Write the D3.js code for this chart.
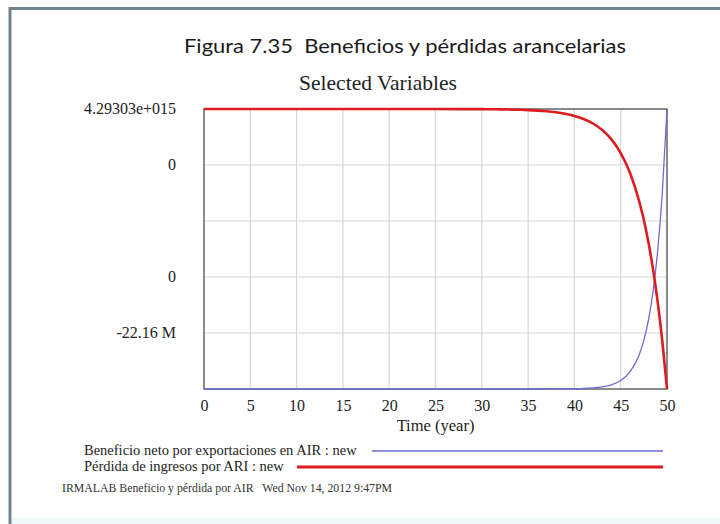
<!DOCTYPE html>
<html>
<head>
<meta charset="utf-8">
<script src="https://cdn.jsdelivr.net/npm/d3@7/dist/d3.min.js"></script>
<style>
  html, body { margin: 0; padding: 0; background: #ffffff; }
  svg { display: block; }
</style>
</head>
<body>
<svg id="chart" width="720" height="524"></svg>
<script>
// Simulation time (years)
const years = [0, 5, 10, 15, 20, 25, 30, 31, 32, 33, 34, 35, 36, 37, 38, 39, 40,
  41, 42, 43, 44, 45, 46, 47, 47.5, 48, 48.5, 49, 49.5, 50];

// Beneficio neto por exportaciones en AIR : new
const beneficioNeto = [0, 0, 0, 0, 0, 0, 3.6e9, 7.2e9, 1.45e10, 2.92e10, 5.87e10,
  1.18e11, 2.38e11, 4.79e11, 9.65e11, 1.944e12, 3.915e12, 7.883e12, 1.5875e13,
  3.197e13, 6.438e13, 1.2964e14, 2.611e14, 5.257e14, 7.46e14, 1.0587e15,
  1.5023e15, 2.1318e15, 3.0253e15, 4.29303e15];

// Pérdida de ingresos por ARI : new
const perdidaIngresos = [0, 0, 0, 0, -3.0e2, -2.1e3, -1.35e4, -1.96e4, -2.84e4,
  -4.11e4, -5.95e4, -8.6e4, -1.25e5, -1.81e5, -2.61e5, -3.78e5, -5.48e5, -7.93e5,
  -1.148e6, -1.662e6, -2.407e6, -3.484e6, -5.044e6, -7.304e6, -8.786e6,
  -1.0572e7, -1.2722e7, -1.5306e7, -1.8417e7, -2.216e7];

// Axis texts
const xTickValues = [0, 5, 10, 15, 20, 25, 30, 35, 40, 45, 50];
const yTickLabels = ["4.29303e+015", "0", "0", "-22.16 M"];
const yTickRows = [0, 1, 3, 4];

const seriesNames = ["Beneficio neto por exportaciones en AIR : new",
  "Pérdida de ingresos por ARI : new"];
const seriesColors = ["#6b6bd6", "#de1c1f"];

const svg = d3.select("#chart");
const W = 720, H = 524;
const plot = { left: 204, right: 667, top: 109, bottom: 389 };
const serif = "'Liberation Serif', 'Times New Roman', serif";

// Page frame
svg.append("rect").attr("x", 0).attr("y", 0).attr("width", W).attr("height", H)
  .attr("fill", "#ffffff");
svg.append("rect").attr("x", 10).attr("y", 518).attr("width", W).attr("height", 8)
  .attr("fill", "#eef8f8");
svg.append("rect").attr("x", 10).attr("y", 8.5).attr("width", W + 10).attr("height", H + 10)
  .attr("fill", "none").attr("stroke", "#72848f").attr("stroke-width", 3);

// Titles
svg.append("text").attr("x", 405).attr("y", 53)
  .attr("text-anchor", "middle")
  .attr("font-family", "Lato, 'Open Sans', sans-serif").attr("font-size", 20)
  .attr("fill", "#1a1a1a")
  .attr("textLength", 442).attr("lengthAdjust", "spacingAndGlyphs")
  .style("white-space", "pre")
  .text("Figura 7.35  Beneficios y pérdidas arancelarias");

svg.append("text").attr("x", 378).attr("y", 90)
  .attr("text-anchor", "middle")
  .attr("font-family", serif).attr("font-size", 21.5)
  .attr("fill", "#222")
  .text("Selected Variables");

// Scales
const x = d3.scaleLinear().domain([0, 50]).range([plot.left, plot.right]);
const yBlue = d3.scaleLinear().domain([0, d3.max(beneficioNeto)]).range([plot.bottom, plot.top]);
const yRed = d3.scaleLinear().domain([d3.min(perdidaIngresos), 0]).range([plot.bottom, plot.top]);
const yRow = d3.scaleLinear().domain([0, 5]).range([plot.top, plot.bottom]);

// Grid
const grid = svg.append("g").attr("stroke", "#d6d6d6").attr("stroke-width", 1.2);
grid.selectAll("line.v").data(xTickValues.slice(1, -1)).join("line")
  .attr("x1", d => x(d)).attr("x2", d => x(d))
  .attr("y1", plot.top).attr("y2", plot.bottom);
grid.selectAll("line.h").data(d3.range(1, 5)).join("line")
  .attr("x1", plot.left).attr("x2", plot.right)
  .attr("y1", d => yRow(d)).attr("y2", d => yRow(d));

// Plot frame
svg.append("rect").attr("x", plot.left).attr("y", plot.top)
  .attr("width", plot.right - plot.left).attr("height", plot.bottom - plot.top)
  .attr("fill", "none").attr("stroke", "#6f6f6f").attr("stroke-width", 1.6);

// X axis labels
const xAxis = d3.axisBottom(x).tickValues(xTickValues).tickSize(0).tickPadding(11)
  .tickFormat(d3.format("d"));
const gx = svg.append("g").attr("transform", `translate(0,${plot.bottom})`).call(xAxis);
gx.select(".domain").remove();
gx.selectAll("text").attr("font-family", serif)
  .attr("font-size", 16).attr("fill", "#222");

svg.append("text").attr("x", (plot.left + plot.right) / 2).attr("y", 431)
  .attr("text-anchor", "middle")
  .attr("font-family", serif).attr("font-size", 16.5)
  .attr("fill", "#222").text("Time (year)");

// Y labels
svg.selectAll("text.ylab").data(yTickLabels).join("text")
  .attr("class", "ylab")
  .attr("x", 176).attr("y", (d, i) => yRow(yTickRows[i]) + 5)
  .attr("text-anchor", "end")
  .attr("font-family", serif).attr("font-size", 16)
  .attr("fill", "#222").text(d => d);

// Series
const blueLine = d3.line().x((d, i) => x(years[i])).y(d => yBlue(d)).curve(d3.curveMonotoneX);
const redLine = d3.line().x((d, i) => x(years[i])).y(d => yRed(d)).curve(d3.curveMonotoneX);

svg.append("path").datum(beneficioNeto).attr("d", blueLine)
  .attr("fill", "none").attr("stroke", seriesColors[0]).attr("stroke-width", 1.3);
svg.append("path").datum(perdidaIngresos).attr("d", redLine)
  .attr("fill", "none").attr("stroke", seriesColors[1]).attr("stroke-width", 2.6);

// Legend
const legendRows = [
  { y: 451, lineStart: 372, width: 1.3 },
  { y: 467, lineStart: 297, width: 3 }
];
seriesNames.forEach((name, i) => {
  const r = legendRows[i];
  svg.append("text").attr("x", 84).attr("y", r.y + 4)
    .attr("font-family", serif).attr("font-size", 14.5)
    .attr("fill", "#222").text(name);
  svg.append("line").attr("x1", r.lineStart).attr("x2", 663)
    .attr("y1", r.y).attr("y2", r.y)
    .attr("stroke", seriesColors[i]).attr("stroke-width", r.width);
});

// Footer
svg.append("text").attr("x", 62).attr("y", 492)
  .attr("font-family", serif).attr("font-size", 11.5)
  .attr("fill", "#333")
  .attr("textLength", 330).attr("lengthAdjust", "spacingAndGlyphs")
  .style("white-space", "pre")
  .text("IRMALAB Beneficio y pérdida por AIR   Wed Nov 14, 2012 9:47PM");
</script>
</body>
</html>
